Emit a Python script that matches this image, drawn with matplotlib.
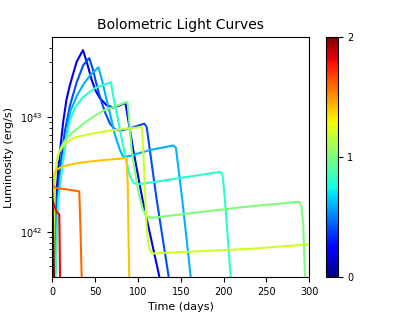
import numpy as np
import matplotlib
matplotlib.use('Agg')
import matplotlib.pyplot as plt

# parameter value of each model (colour scale 0..2)
params = [0.2, 0.4, 0.6, 0.8, 1.0, 1.2, 1.4, 1.6, 1.8, 2.0]

# time (days) and log10 luminosity (erg/s)
t_02 = [1.4, 4.3, 7.8, 12.8, 16.6, 20.7, 28.5, 35.8, 40.5, 46, 51, 55.7, 63.5, 71.2, 79, 85.4, 94.5, 105.3, 124.9, 126.8]
l_02 = [41.49, 42.28, 42.62, 42.96, 43.15, 43.28, 43.48, 43.58, 43.47, 43.32, 43.22, 43.16, 43.10, 43.08, 43.10, 43.12, 42.71, 42.28, 41.61, 41.54]

t_04 = [2, 5.5, 10.2, 14.8, 20.7, 28.5, 36.2, 43.2, 47.5, 51, 55.7, 61.5, 67.3, 73.2, 79, 90.7, 107.4, 110.2, 121.8, 135.8, 137.3]
l_04 = [41.49, 42.28, 42.62, 42.88, 43.10, 43.30, 43.45, 43.51, 43.41, 43.30, 43.17, 43.04, 42.94, 42.89, 42.88, 42.90, 42.94, 42.91, 42.28, 41.61, 41.54]

t_06 = [2.6, 6.7, 11.3, 16, 20.7, 28.5, 36.2, 44, 53.9, 58, 62.7, 67.3, 73.2, 79, 82.8, 90.7, 114, 141.2, 144.3, 151.7, 161.5, 162.7]
l_06 = [41.49, 42.28, 42.58, 42.80, 43.04, 43.18, 43.28, 43.36, 43.43, 43.32, 43.17, 43.03, 42.84, 42.71, 42.65, 42.66, 42.71, 42.75, 42.73, 42.28, 41.61, 41.54]

t_08 = [3.2, 7.2, 11.3, 16, 20.7, 26.5, 35.8, 49.8, 68.5, 70.8, 75.5, 80.2, 84.8, 89.5, 94.2, 98.8, 125.7, 160.7, 195.7, 198.6, 201.5, 208.2, 208.9]
l_08 = [41.49, 42.28, 42.54, 42.80, 42.97, 43.08, 43.17, 43.25, 43.30, 43.19, 43.02, 42.84, 42.67, 42.51, 42.43, 42.41, 42.44, 42.48, 42.52, 42.50, 42.28, 41.61, 41.54]

t_10 = [1.4, 3.2, 6.7, 11.3, 17.2, 26.5, 38.2, 49.8, 61.5, 73.2, 87.7, 88.9, 92.6, 96.5, 101.2, 105.8, 110.5, 116.3, 172.3, 230.6, 288.2, 290.8, 292.9, 294.9, 295.4]
l_10 = [41.49, 42.49, 42.67, 42.75, 42.82, 42.88, 42.95, 43.01, 43.06, 43.09, 43.13, 43.04, 42.71, 42.52, 42.32, 42.19, 42.13, 42.12, 42.17, 42.22, 42.26, 42.22, 42.07, 41.61, 41.54]

t_12 = [0.8, 2, 4.3, 7.8, 14.8, 26.5, 44, 67.3, 90.7, 104.3, 105.3, 107.6, 110.2, 112.8, 116, 172.3, 230.6, 300.7]
l_12 = [41.49, 42.28, 42.57, 42.69, 42.77, 42.82, 42.85, 42.88, 42.90, 42.91, 42.84, 42.45, 42.02, 41.86, 41.81, 41.83, 41.85, 41.89]

t_14 = [0.5, 1.0, 1.3, 5.1, 12.8, 32.3, 55.7, 86.8, 88, 89.8, 90.1]
l_14 = [41.5, 42.3, 42.48, 42.54, 42.57, 42.60, 42.62, 42.64, 42.42, 41.61, 41.54]

t_16 = [0.2, 4.3, 14.8, 31.5, 32.9, 34.3, 34.7]
l_16 = [42.40, 42.38, 42.37, 42.35, 42.02, 41.61, 41.54]

t_18 = [0, 1.2, 5.1, 8.2, 8.6, 9.0, 9.2]
l_18 = [42.27, 42.25, 42.17, 42.15, 41.9, 41.61, 41.54]

t_20 = [0, 0.5, 1.0, 1.5, 2.0, 2.2]
l_20 = [42.33, 42.2, 42.0, 41.8, 41.61, 41.54]

times = [t_02, t_04, t_06, t_08, t_10, t_12, t_14, t_16, t_18, t_20]
lums = [l_02, l_04, l_06, l_08, l_10, l_12, l_14, l_16, l_18, l_20]

fig = plt.figure(figsize=(4.16, 3.12), dpi=100)
ax = fig.add_axes([0.1257, 0.1122, 0.6178, 0.7688])
cax = fig.add_axes([0.783, 0.1122, 0.0288, 0.7688])

cmap = plt.get_cmap('jet')
norm = matplotlib.colors.Normalize(vmin=0, vmax=2)

for p, t, l in zip(params, times, lums):
    ax.plot(t, 10 ** np.array(l), color=cmap(norm(p)), lw=1.5)

ax.set_yscale('log')
ax.set_xlim(0, 300)
ax.set_ylim(4.03e41, 4.93e43)
ax.set_title('Bolometric Light Curves', fontsize=10)
ax.set_xlabel('Time (days)', fontsize=8)
ax.set_ylabel('Luminosity (erg/s)', fontsize=8)
ax.tick_params(labelsize=7)

sm = matplotlib.cm.ScalarMappable(cmap=cmap, norm=norm)
cb = fig.colorbar(sm, cax=cax, ticks=[0, 1, 2])
cb.ax.tick_params(labelsize=7)

fig.savefig('out.png', dpi=100)
